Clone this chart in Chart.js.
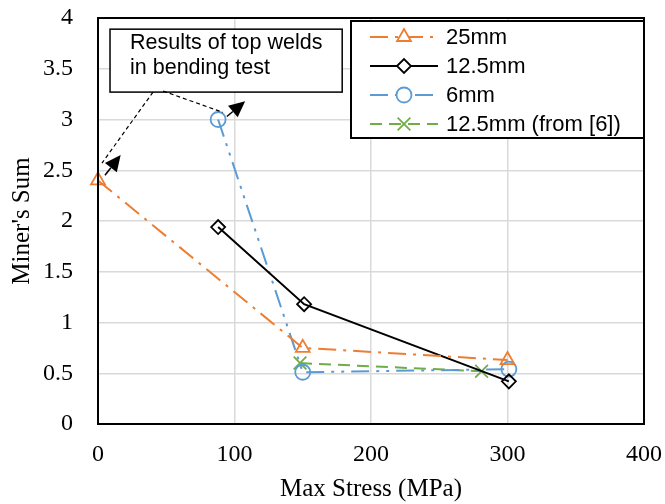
<!DOCTYPE html>
<html>
<head>
<meta charset="utf-8">
<script src="https://cdn.jsdelivr.net/npm/chart.js@4.4.1/dist/chart.umd.min.js"></script>
<style>
  html, body { margin: 0; padding: 0; background: #fff; }
</style>
</head>
<body>
<canvas id="minerChart" width="665" height="504"></canvas>
<script>
// values
const seriesNames = ['25mm', '12.5mm', '6mm', '12.5mm (from [6])'];
const stress25 = [0, 150, 300];
const miner25 = [2.4, 0.75, 0.63];
const stress125 = [88, 151, 301];
const miner125 = [1.94, 1.18, 0.42];
const stress6 = [88, 150, 301];
const miner6 = [3.0, 0.51, 0.54];
const stressRef = [148, 281];
const minerRef = [0.6, 0.52];

const xTicks = [0, 100, 200, 300, 400];
const yTicks = [0, 0.5, 1, 1.5, 2, 2.5, 3, 3.5, 4];

// callout, in data units
const noteLines = ['Results of top welds', 'in bending test'];
const noteBox = { x0: 8.8, y0: 3.89, x1: 178.9, y1: 3.27 };
const noteLeaders = [
    [[40.3, 3.27], [2.9, 2.57]],
    [[47.7, 3.28], [91.6, 3.07]]
];
const noteArrows = [
    [[5.1, 2.45], [16.6, 2.65]],
    [[94.4, 3.03], [107.8, 3.18]]
];

const toPoints = (xs, ys) => xs.map((x, i) => ({ x: x, y: ys[i] }));

const frameAndNotes = {
    id: 'frameAndNotes',
    afterDatasetsDraw(chart) {
        const ctx = chart.ctx;
        const a = chart.chartArea;
        const xs = chart.scales.x, ys = chart.scales.y;
        const px = v => xs.getPixelForValue(v);
        const py = v => ys.getPixelForValue(v);

        ctx.save();
        // plot frame
        ctx.strokeStyle = '#000';
        ctx.lineWidth = 2;
        ctx.strokeRect(a.left, a.top, a.right - a.left, a.bottom - a.top);

        // callout box
        const bx = px(noteBox.x0), by = py(noteBox.y0);
        const bw = px(noteBox.x1) - bx, bh = py(noteBox.y1) - by;
        ctx.fillStyle = '#fff';
        ctx.fillRect(bx, by, bw, bh);
        ctx.lineWidth = 1.5;
        ctx.strokeRect(bx, by, bw, bh);
        ctx.fillStyle = '#000';
        ctx.font = '21.5px "Liberation Sans", Arial, sans-serif';
        ctx.textBaseline = 'middle';
        ctx.fillText(noteLines[0], bx + 20, by + 14);
        ctx.fillText(noteLines[1], bx + 20, by + 39);

        // dashed leaders
        ctx.setLineDash([4, 3]);
        ctx.lineWidth = 1.2;
        noteLeaders.forEach(l => {
            ctx.beginPath();
            ctx.moveTo(px(l[0][0]), py(l[0][1]));
            ctx.lineTo(px(l[1][0]), py(l[1][1]));
            ctx.stroke();
        });
        ctx.setLineDash([]);

        // arrows
        noteArrows.forEach(ar => {
            const x0 = px(ar[0][0]), y0 = py(ar[0][1]);
            const x1 = px(ar[1][0]), y1 = py(ar[1][1]);
            const ang = Math.atan2(y1 - y0, x1 - x0);
            const len = 16, half = 7.5;
            const bxp = x1 - len * Math.cos(ang), byp = y1 - len * Math.sin(ang);
            ctx.lineWidth = 1.5;
            ctx.beginPath();
            ctx.moveTo(x0, y0);
            ctx.lineTo(bxp, byp);
            ctx.stroke();
            ctx.beginPath();
            ctx.moveTo(x1, y1);
            ctx.lineTo(bxp + half * Math.sin(ang), byp - half * Math.cos(ang));
            ctx.lineTo(bxp - half * Math.sin(ang), byp + half * Math.cos(ang));
            ctx.closePath();
            ctx.fill();
        });

        // legend box
        const lx = 351, ly = 21, lw = 293, lh = 117;
        ctx.fillStyle = '#fff';
        ctx.fillRect(lx, ly, lw, lh);
        ctx.strokeStyle = '#000';
        ctx.lineWidth = 2;
        ctx.strokeRect(lx, ly, lw, lh);
        ctx.font = '22px "Liberation Sans", Arial, sans-serif';
        chart.data.datasets.forEach((ds, i) => {
            const rowY = ly + 16 + i * 29;
            ctx.strokeStyle = ds.borderColor;
            ctx.lineWidth = ds.borderWidth;
            ctx.setLineDash(ds.borderDash || []);
            ctx.beginPath();
            ctx.moveTo(lx + 19, rowY);
            ctx.lineTo(lx + 87, rowY);
            ctx.stroke();
            ctx.setLineDash([]);
            ctx.fillStyle = '#fff';
            ctx.strokeStyle = ds.pointBorderColor;
            ctx.lineWidth = ds.pointBorderWidth;
            Chart.helpers.drawPoint(ctx, {
                pointStyle: ds.pointStyle,
                radius: ds.pointRadius,
                rotation: 0,
                borderWidth: ds.pointBorderWidth
            }, lx + 53, rowY);
            ctx.fillStyle = '#000';
            ctx.fillText(ds.label, lx + 95, rowY + 1);
        });
        ctx.restore();
    }
};

const serif = '"Liberation Serif", "Times New Roman", serif';

// keep tick label overflow from pushing the plot area in
const noOverflow = scale => {
    scale.paddingTop = 0;
    scale.paddingBottom = 0;
    scale.paddingLeft = 0;
    scale.paddingRight = 0;
};

const ctx = document.getElementById('minerChart').getContext('2d');
const minerChart = new Chart(ctx, {
    type: 'scatter',
    data: {
        datasets: [
            {
                label: seriesNames[0],
                data: toPoints(stress25, miner25),
                showLine: true,
                clip: false,
                borderColor: '#ED7D31',
                borderWidth: 2,
                borderDash: [18, 7, 3, 7],
                pointStyle: 'triangle',
                pointRadius: 8,
                pointBorderColor: '#ED7D31',
                pointBackgroundColor: 'rgba(0,0,0,0)',
                pointBorderWidth: 1.8
            },
            {
                label: seriesNames[1],
                data: toPoints(stress125, miner125),
                showLine: true,
                clip: false,
                borderColor: '#000000',
                borderWidth: 2,
                pointStyle: 'rectRot',
                pointRadius: 7,
                pointBorderColor: '#000000',
                pointBackgroundColor: 'rgba(0,0,0,0)',
                pointBorderWidth: 1.8
            },
            {
                label: seriesNames[2],
                data: toPoints(stress6, miner6),
                showLine: true,
                clip: false,
                borderColor: '#5B9BD5',
                borderWidth: 2,
                borderDash: [18, 7, 3, 7, 3, 7],
                pointStyle: 'circle',
                pointRadius: 7.5,
                pointBorderColor: '#5B9BD5',
                pointBackgroundColor: 'rgba(0,0,0,0)',
                pointBorderWidth: 1.8
            },
            {
                label: seriesNames[3],
                data: toPoints(stressRef, minerRef),
                showLine: true,
                clip: false,
                borderColor: '#70AD47',
                borderWidth: 2,
                borderDash: [12, 7],
                pointStyle: 'crossRot',
                pointRadius: 9,
                pointBorderColor: '#70AD47',
                pointBackgroundColor: 'rgba(0,0,0,0)',
                pointBorderWidth: 1.8
            }
        ]
    },
    options: {
        responsive: false,
        animation: false,
        devicePixelRatio: 1,
        layout: {
            padding: { top: 18, right: 21, left: 0, bottom: 0 }
        },
        plugins: {
            legend: { display: false },
            tooltip: { enabled: false }
        },
        scales: {
            x: {
                type: 'linear',
                min: 0,
                max: 400,
                afterFit: scale => { scale.height = 80; noOverflow(scale); },
                afterBuildTicks: scale => { scale.ticks = xTicks.map(v => ({ value: v })); },
                ticks: {
                    padding: 16,
                    color: '#000',
                    callback: v => String(v),
                    font: { family: serif, size: 24 }
                },
                grid: { color: '#d9d9d9', lineWidth: 1.5, drawTicks: false },
                border: { color: '#000', width: 2 },
                title: {
                    display: true,
                    text: 'Max Stress (MPa)',
                    color: '#000',
                    padding: { top: 0, bottom: 0 },
                    font: { family: serif, size: 25 }
                }
            },
            y: {
                type: 'linear',
                min: 0,
                max: 4,
                afterFit: scale => { scale.width = 98; noOverflow(scale); },
                afterBuildTicks: scale => { scale.ticks = yTicks.map(v => ({ value: v })); },
                ticks: {
                    padding: 25,
                    color: '#000',
                    callback: v => String(v),
                    font: { family: serif, size: 24 }
                },
                grid: { color: '#d9d9d9', lineWidth: 1.5, drawTicks: false },
                border: { color: '#000', width: 2 },
                title: {
                    display: true,
                    text: "Miner's Sum",
                    color: '#000',
                    padding: { top: 7, bottom: 7 },
                    font: { family: serif, size: 25 }
                }
            }
        }
    },
    plugins: [frameAndNotes]
});
</script>
</body>
</html>
